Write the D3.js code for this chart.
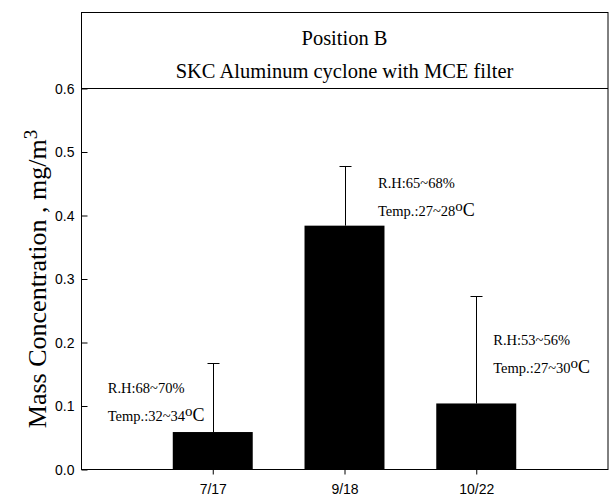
<!DOCTYPE html>
<html>
<head>
<meta charset="utf-8">
<script src="https://cdn.jsdelivr.net/npm/d3@7"></script>
<style>
  body { margin: 0; background: #fff; }
  svg { display: block; }
</style>
</head>
<body>
<div id="body"></div>
<script>
// sampling dates, Position B
let dates = ["7/17", "9/18", "10/22"];
let means = [0.059, 0.384, 0.104];
let upperErr = [0.108, 0.094, 0.169];
let rhText = ["R.H:68~70%", "R.H:65~68%", "R.H:53~56%"];
let tempText = ["32~34", "27~28", "27~30"];
let yTicks = [0.0, 0.1, 0.2, 0.3, 0.4, 0.5, 0.6];
let titleLines = ["Position B", "SKC Aluminum cyclone with MCE filter"];

let width = 609,
  height = 496;
let padL = 81,
  padR = 608,
  padT = 12,
  padB = 469.5;

let serif = "'Liberation Serif', 'Times New Roman', serif";
let sans = "'Liberation Sans', Arial, sans-serif";

let svg = d3
  .select("#body")
  .append("svg")
  .attr("width", width)
  .attr("height", height);

let x = d3
  .scalePoint()
  .domain(dates)
  .range([padL, padR])
  .padding(1);

let y = d3
  .scaleLinear()
  .domain([0, 0.6])
  .range([padB, 88.5]);

let barW = x.step() * 0.607;

//bars
svg
  .selectAll(".bar")
  .data(dates)
  .enter()
  .append("rect")
  .attr("class", "bar")
  .attr("x", (d) => x(d) - barW / 2)
  .attr("width", barW)
  .attr("y", (d, i) => y(means[i]))
  .attr("height", (d, i) => y(0) - y(means[i]))
  .style("fill", "#000");

//upper error bars only
let err = svg
  .selectAll(".err")
  .data(dates)
  .enter()
  .append("g")
  .attr("class", "err")
  .style("stroke", "#000")
  .style("stroke-width", 1);

err
  .append("line")
  .attr("x1", (d) => Math.round(x(d)) + 0.5)
  .attr("x2", (d) => Math.round(x(d)) + 0.5)
  .attr("y1", (d, i) => y(means[i]))
  .attr("y2", (d, i) => y(means[i] + upperErr[i]));

err
  .append("line")
  .attr("x1", (d) => Math.round(x(d)) + 0.5 - 6)
  .attr("x2", (d) => Math.round(x(d)) + 0.5 + 6)
  .attr("y1", (d, i) => Math.round(y(means[i] + upperErr[i])) + 0.5)
  .attr("y2", (d, i) => Math.round(y(means[i] + upperErr[i])) + 0.5);

//y axis, ticks pointing inward
let yAxis = svg
  .append("g")
  .attr("transform", "translate(" + (padL + 0.5) + ",0)")
  .call(
    d3
      .axisRight(y)
      .tickValues(yTicks)
      .tickSize(6)
      .tickFormat(d3.format(".1f"))
  );
yAxis.select(".domain").remove();
yAxis.selectAll("line").attr("stroke", "#000");
yAxis
  .selectAll("text")
  .attr("x", -7)
  .attr("text-anchor", "end")
  .attr("dy", "0.35em")
  .style("font-family", sans)
  .style("font-size", "14px")
  .style("fill", "#000");

//x axis, ticks outward
let xAxis = svg
  .append("g")
  .attr("transform", "translate(0," + padB + ")")
  .call(d3.axisBottom(x).tickSize(5).tickPadding(10));
xAxis.select(".domain").remove();
xAxis.selectAll("line").attr("stroke", "#000");
xAxis
  .selectAll("text")
  .style("font-family", sans)
  .style("font-size", "14px")
  .style("fill", "#000");

//frame and header box
let frame = svg.append("g").style("stroke", "#000").style("fill", "none");
frame
  .append("rect")
  .attr("x", padL + 0.5)
  .attr("y", padT + 0.5)
  .attr("width", padR - padL - 0.5)
  .attr("height", padB - padT - 0.5);
frame
  .append("line")
  .attr("x1", padL)
  .attr("x2", padR)
  .attr("y1", y(0.6))
  .attr("y2", y(0.6));

svg
  .selectAll(".title")
  .data(titleLines)
  .enter()
  .append("text")
  .attr("class", "title")
  .attr("x", (padL + padR) / 2)
  .attr("y", (d, i) => 45 + i * 32.5)
  .attr("text-anchor", "middle")
  .style("font-family", serif)
  .style("font-size", "20.5px")
  .text((d) => d);

//humidity / temperature notes, offset from each bar center
let noteDx = [-105, 33.5, 17];
let noteY = [0.12, 0.443, 0.196];

let note = svg
  .selectAll(".note")
  .data(dates)
  .enter()
  .append("g")
  .attr("class", "note")
  .attr("transform", (d, i) => "translate(" + (x(d) + noteDx[i]) + "," + y(noteY[i]) + ")")
  .style("font-family", serif);

note
  .append("text")
  .style("font-size", "14.5px")
  .text((d, i) => rhText[i]);

let temp = note
  .append("text")
  .attr("y", 28)
  .style("font-size", "14.5px");
temp.append("tspan").text((d, i) => "Temp.:" + tempText[i]);
temp
  .append("tspan")
  .attr("dy", -5)
  .style("font-size", "15px")
  .text("o");
temp
  .append("tspan")
  .attr("dy", 5)
  .style("font-size", "18px")
  .text("C");

//y label
let ylab = svg
  .append("text")
  .attr("transform", "translate(46," + 279 + ") rotate(-90)")
  .attr("text-anchor", "middle")
  .style("font-family", serif)
  .style("font-size", "26px");
ylab.append("tspan").text("Mass Concentration , mg/m");
ylab
  .append("tspan")
  .attr("dy", -9)
  .style("font-size", "19px")
  .text("3");
</script>
</body>
</html>
